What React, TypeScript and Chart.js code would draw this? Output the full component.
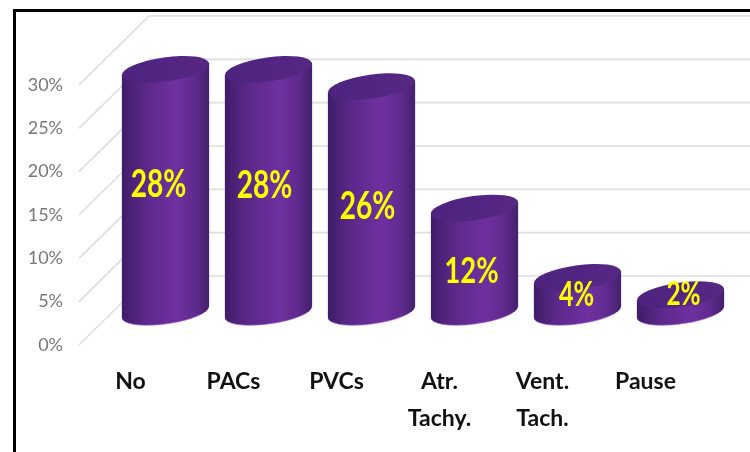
import React, { useEffect, useRef } from "react";
import { Chart, registerables } from "chart.js";

Chart.register(...registerables);

const categories = ["No", "PACs", "PVCs", ["Atr.", "Tachy."], ["Vent.", "Tach."], "Pause"];
const values = [28, 28, 26, 12, 4, 2];
const yTicks = [0, 5, 10, 15, 20, 25, 30];
const labelNudgeX = [-7, -4, -4, -3, -1, 3];
const labelNudgeY = [-6, -5, 7, 11, 0, -9];
const labelSizes = [38, 38, 38, 37, 34, 33];

const DEPTH_X = 70;
const DEPTH_Y = 69;
const ROT = (-8 * Math.PI) / 180;
const FONT = 'Lato, "Noto Sans", sans-serif';

const scene = {
  id: "scene",
  beforeDatasetsDraw(chart: any) {
    const { ctx, scales } = chart;
    const y = scales.y;
    const x = scales.x;
    ctx.save();
    ctx.strokeStyle = "#dedede";
    ctx.lineWidth = 1.6;
    yTicks.forEach((t) => {
      const py = y.getPixelForValue(t);
      ctx.beginPath();
      ctx.moveTo(x.left, py);
      ctx.lineTo(x.left + DEPTH_X, py - DEPTH_Y);
      ctx.lineTo(chart.width, py - DEPTH_Y);
      ctx.stroke();
    });
    ctx.restore();
  },
  afterDatasetsDraw(chart: any) {
    const { ctx } = chart;
    const meta = chart.getDatasetMeta(0);
    meta.data.forEach((bar: any, i: number) => {
      const cx = bar.x + DEPTH_X / 2;
      const lift = 33;
      const top = bar.y - lift;
      const base = bar.base - lift;
      const rx = bar.width / 2 + 0.5;
      const ry = 12;
      const t0 = Math.atan2(-ry * Math.sin(ROT), rx * Math.cos(ROT));
      const xe = rx * Math.cos(t0) * Math.cos(ROT) - ry * Math.sin(t0) * Math.sin(ROT);
      const ye = rx * Math.cos(t0) * Math.sin(ROT) + ry * Math.sin(t0) * Math.cos(ROT);

      const side = ctx.createLinearGradient(cx - xe, 0, cx + xe, 0);
      side.addColorStop(0, "#3f1c68");
      side.addColorStop(0.25, "#5a2888");
      side.addColorStop(0.62, "#7030a0");
      side.addColorStop(0.85, "#5e2a8c");
      side.addColorStop(1, "#43206c");

      ctx.save();
      ctx.beginPath();
      ctx.ellipse(cx, base, rx, ry, ROT, t0, t0 + Math.PI);
      ctx.lineTo(cx - xe, top - ye);
      ctx.lineTo(cx + xe, top + ye);
      ctx.closePath();
      ctx.fillStyle = side;
      ctx.fill();

      ctx.beginPath();
      ctx.ellipse(cx, base, rx, ry, ROT, t0 + 0.5, t0 + Math.PI - 0.3);
      ctx.strokeStyle = "rgba(170,100,220,0.6)";
      ctx.lineWidth = 1;
      ctx.stroke();

      const cap = ctx.createLinearGradient(cx - xe, 0, cx + xe, 0);
      cap.addColorStop(0, "#4e2480");
      cap.addColorStop(0.5, "#522583");
      cap.addColorStop(1, "#572882");
      ctx.beginPath();
      ctx.ellipse(cx, top, rx, ry, ROT, 0, Math.PI * 2);
      ctx.fillStyle = cap;
      ctx.fill();

      ctx.translate(cx + labelNudgeX[i], (top + base) / 2 + labelNudgeY[i]);
      ctx.scale(0.74, 1);
      ctx.font = `bold ${labelSizes[i]}px ${FONT}`;
      ctx.fillStyle = "#ffff00";
      ctx.textAlign = "center";
      ctx.textBaseline = "middle";
      ctx.fillText(values[i] + "%", 0, 0);
      ctx.restore();
    });

    ctx.save();
    ctx.fillStyle = "#000";
    ctx.fillRect(13, 9, 3, chart.height - 9);
    ctx.fillRect(13, 9, chart.width - 13, 3);
    ctx.restore();
  },
};

export default function App() {
  const ref = useRef<HTMLCanvasElement>(null);
  useEffect(() => {
    const chart = new Chart(ref.current as HTMLCanvasElement, {
      type: "bar",
      data: {
        labels: categories as any,
        datasets: [
          {
            data: values,
            backgroundColor: "rgba(0,0,0,0)",
            barPercentage: 0.845,
            categoryPercentage: 1,
          },
        ],
      },
      options: {
        responsive: false,
        animation: false,
        layout: { padding: { top: 85, right: 53, left: 0, bottom: 0 } },
        plugins: { legend: { display: false }, tooltip: { enabled: false } },
        scales: {
          x: {
            grid: { display: false, drawTicks: false },
            border: { display: false },
            afterFit: (s: any) => {
              s.height = 107;
            },
            ticks: {
              color: "#111111",
              padding: 19,
              maxRotation: 0,
              autoSkip: false,
              font: { family: FONT, size: 23, weight: "bold", lineHeight: 1.57 },
            },
          },
          y: {
            min: 0,
            max: 30,
            grid: { display: false, drawTicks: false },
            border: { display: false },
            afterFit: (s: any) => {
              s.width = 79;
            },
            ticks: {
              stepSize: 5,
              color: "#787878",
              padding: 16,
              callback: (v: any) => v + "%",
              font: { family: FONT, size: 18 },
            },
          },
        },
      },
      plugins: [scene],
    } as any);
    return () => chart.destroy();
  }, []);
  return (
    <canvas
      ref={ref}
      width={750}
      height={452}
      style={{ position: "fixed", left: 0, top: 0, width: 750, height: 452, display: "block" }}
    />
  );
}
